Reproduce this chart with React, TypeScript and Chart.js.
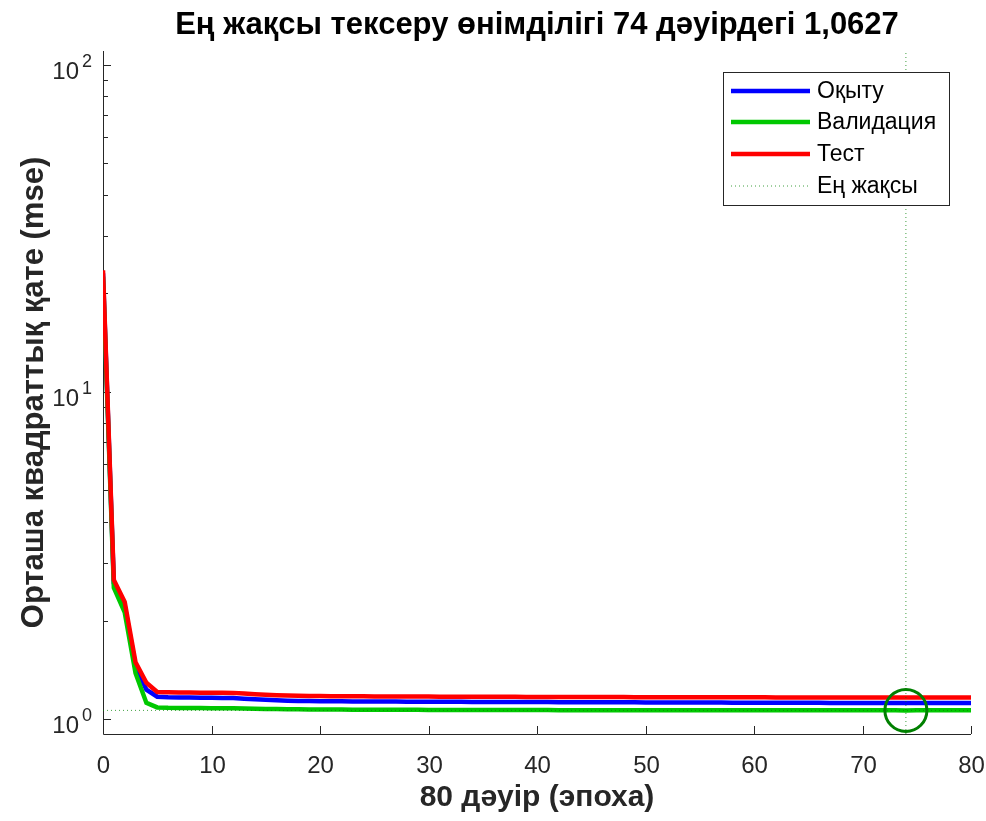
import React, { useEffect, useRef } from "react";
import { Chart, registerables } from "chart.js";
Chart.register(...registerables);

const titleText = "Ең жақсы тексеру өнімділігі 74 дәуірдегі 1,0627";
const xLabelText = "80 дәуір (эпоха)";
const yLabelText = "Орташа квадраттық қате (mse)";
const legendLabels = ["Оқыту", "Валидация", "Тест", "Ең жақсы"];

const epochs: number[] = [
  0, 1, 2, 3, 4, 5, 6, 7, 8, 9, 10, 11, 12, 13, 14, 15, 16, 17, 18, 19, 20,
  21, 22, 23, 24, 25, 26, 27, 28, 29, 30, 31, 32, 33, 34, 35, 36, 37, 38, 39, 40,
  41, 42, 43, 44, 45, 46, 47, 48, 49, 50, 51, 52, 53, 54, 55, 56, 57, 58, 59, 60,
  61, 62, 63, 64, 65, 66, 67, 68, 69, 70, 71, 72, 73, 74, 75, 76, 77, 78, 79, 80,
];

const trainMse: number[] = [
  23.0, 2.6, 2.22, 1.45, 1.23, 1.17, 1.166, 1.164, 1.163, 1.162,
  1.161, 1.16, 1.159, 1.154, 1.149, 1.145, 1.141, 1.138, 1.136, 1.135,
  1.134, 1.133, 1.133, 1.132, 1.132, 1.131, 1.131, 1.131, 1.13, 1.13,
  1.13, 1.129, 1.129, 1.129, 1.128, 1.128, 1.128, 1.128, 1.127, 1.127,
  1.127, 1.127, 1.126, 1.126, 1.126, 1.126, 1.125, 1.125, 1.125, 1.125,
  1.124, 1.124, 1.124, 1.124, 1.123, 1.123, 1.123, 1.123, 1.122, 1.122,
  1.122, 1.122, 1.121, 1.121, 1.121, 1.121, 1.121, 1.12, 1.12, 1.12,
  1.12, 1.12, 1.119, 1.119, 1.119, 1.119, 1.119, 1.119, 1.119, 1.119, 1.119,
];

const validationMse: number[] = [
  22.5, 2.52, 2.12, 1.38, 1.12, 1.085, 1.082, 1.081, 1.08, 1.08,
  1.079, 1.079, 1.078, 1.077, 1.075, 1.074, 1.073, 1.072, 1.071, 1.07,
  1.07, 1.069, 1.069, 1.068, 1.068, 1.068, 1.067, 1.067, 1.067, 1.067,
  1.066, 1.066, 1.066, 1.066, 1.066, 1.065, 1.065, 1.065, 1.065, 1.065,
  1.065, 1.065, 1.064, 1.064, 1.064, 1.064, 1.064, 1.064, 1.064, 1.064,
  1.064, 1.064, 1.0635, 1.0635, 1.0635, 1.0635, 1.0635, 1.0635, 1.0635, 1.0635,
  1.0633, 1.0633, 1.0633, 1.0632, 1.0632, 1.0632, 1.0631, 1.0631, 1.063, 1.063,
  1.0629, 1.0629, 1.0628, 1.0628, 1.0627, 1.0628, 1.0628, 1.0629, 1.0629, 1.063, 1.063,
];

const testMse: number[] = [
  23.5, 2.66, 2.28, 1.49, 1.29, 1.21, 1.208, 1.206, 1.205, 1.204,
  1.203, 1.203, 1.202, 1.196, 1.191, 1.187, 1.183, 1.18, 1.178, 1.176,
  1.175, 1.174, 1.174, 1.173, 1.173, 1.172, 1.172, 1.172, 1.171, 1.171,
  1.171, 1.17, 1.17, 1.17, 1.17, 1.169, 1.169, 1.169, 1.169, 1.168,
  1.168, 1.168, 1.168, 1.168, 1.167, 1.167, 1.167, 1.167, 1.167, 1.166,
  1.166, 1.166, 1.166, 1.166, 1.166, 1.165, 1.165, 1.165, 1.165, 1.165,
  1.165, 1.165, 1.164, 1.164, 1.164, 1.164, 1.164, 1.164, 1.164, 1.164,
  1.163, 1.163, 1.163, 1.163, 1.163, 1.163, 1.163, 1.163, 1.163, 1.163, 1.163,
];

const bestEpoch = 74;
const bestValue = 1.0627;
const xMin = 0;
const xMax = 80;
const yMin = 0.9;
const yMax = 110;
const xTickValues = [0, 10, 20, 30, 40, 50, 60, 70, 80];
const yMajorTicks = [1, 10, 100];
const yMajorExponents = ["0", "1", "2"];
const yMinorTicks = [
  2, 3, 4, 5, 6, 7, 8, 9, 20, 30, 40, 50, 60, 70, 80, 90,
];

const FONT = "'Liberation Sans', Arial, Helvetica, sans-serif";
const AXIS_COLOR = "#262626";
const BLUE = "#0000ff";
const GREEN = "#00c800";
const RED = "#ff0000";
const BEST_COLOR = "rgba(0,128,0,0.75)";
const CIRCLE_COLOR = "#008000";

const decorPlugin = {
  id: "matlabDecor",
  beforeDatasetsDraw(chart: any) {
    const ctx = chart.ctx;
    const { left, right, top, bottom } = chart.chartArea;
    const xs = chart.scales.x;
    const ys = chart.scales.y;
    ctx.save();
    ctx.strokeStyle = AXIS_COLOR;
    ctx.lineWidth = 1;
    ctx.beginPath();
    ctx.moveTo(left + 0.5, top);
    ctx.lineTo(left + 0.5, bottom + 0.5);
    ctx.lineTo(right, bottom + 0.5);
    ctx.stroke();
    ctx.fillStyle = AXIS_COLOR;
    ctx.font = `24px ${FONT}`;
    ctx.textAlign = "center";
    ctx.textBaseline = "alphabetic";
    for (const v of xTickValues) {
      const px = Math.round(xs.getPixelForValue(v)) + 0.5;
      ctx.beginPath();
      ctx.moveTo(px, bottom);
      ctx.lineTo(px, bottom - 8);
      ctx.stroke();
      ctx.fillText(String(v), px, 773);
    }
    for (let i = 0; i < yMajorTicks.length; i++) {
      const py = Math.round(ys.getPixelForValue(yMajorTicks[i])) + 0.5;
      ctx.beginPath();
      ctx.moveTo(left, py);
      ctx.lineTo(left + 8, py);
      ctx.stroke();
      ctx.textAlign = "right";
      ctx.font = `18px ${FONT}`;
      const expRight = left - 11;
      const ew = ctx.measureText(yMajorExponents[i]).width;
      ctx.fillText(yMajorExponents[i], expRight, py + 1);
      ctx.font = `24px ${FONT}`;
      ctx.fillText("10", expRight - ew - 3, py + 13);
    }
    for (const v of yMinorTicks) {
      const py = Math.round(ys.getPixelForValue(v)) + 0.5;
      ctx.beginPath();
      ctx.moveTo(left, py);
      ctx.lineTo(left + 5, py);
      ctx.stroke();
    }
    ctx.restore();
  },
  afterDraw(chart: any) {
    const ctx = chart.ctx;
    const { left, right, top, bottom } = chart.chartArea;
    const cx = (left + right) / 2;
    ctx.save();
    ctx.fillStyle = "#000000";
    ctx.font = `bold 31px ${FONT}`;
    ctx.textAlign = "center";
    ctx.textBaseline = "alphabetic";
    ctx.fillText(titleText, cx, 34);
    ctx.fillStyle = AXIS_COLOR;
    ctx.font = `bold 30px ${FONT}`;
    ctx.fillText(xLabelText, cx, 806);
    ctx.save();
    ctx.translate(43, (top + bottom) / 2);
    ctx.rotate(-Math.PI / 2);
    ctx.font = `bold 31px ${FONT}`;
    ctx.fillText(yLabelText, 0, 0);
    ctx.restore();

    const bx = 723, by = 72, bw = 226, bh = 133;
    ctx.fillStyle = "#ffffff";
    ctx.fillRect(bx, by, bw, bh);
    ctx.strokeStyle = AXIS_COLOR;
    ctx.lineWidth = 1;
    ctx.strokeRect(bx + 0.5, by + 0.5, bw, bh);
    const rows = [91, 122, 154, 186];
    const colors = [BLUE, GREEN, RED, BEST_COLOR];
    ctx.font = `23px ${FONT}`;
    ctx.textAlign = "left";
    ctx.textBaseline = "middle";
    for (let i = 0; i < rows.length; i++) {
      ctx.beginPath();
      ctx.strokeStyle = colors[i];
      if (i < 3) {
        ctx.lineWidth = 4.5;
        ctx.setLineDash([]);
      } else {
        ctx.lineWidth = 1;
        ctx.setLineDash([1, 3]);
      }
      ctx.moveTo(731, rows[i]);
      ctx.lineTo(810, rows[i]);
      ctx.stroke();
      ctx.setLineDash([]);
      ctx.fillStyle = "#000000";
      ctx.fillText(legendLabels[i], 817, rows[i] + 1);
    }
    ctx.restore();
  },
};

export default function App() {
  const ref = useRef<HTMLCanvasElement | null>(null);
  useEffect(() => {
    if (!ref.current) return;
    const toPts = (arr: number[]) => epochs.map((e, i) => ({ x: e, y: arr[i] }));
    const chart = new Chart(ref.current, {
      type: "line",
      data: {
        datasets: [
          { label: legendLabels[0], data: toPts(trainMse), borderColor: BLUE, borderWidth: 4.5, pointRadius: 0, order: 4 },
          { label: legendLabels[1], data: toPts(validationMse), borderColor: GREEN, borderWidth: 4.5, pointRadius: 0, order: 3 },
          { label: legendLabels[2], data: toPts(testMse), borderColor: RED, borderWidth: 4.5, pointRadius: 0, order: 2 },
          {
            label: legendLabels[3],
            data: [
              { x: bestEpoch, y: yMin },
              { x: bestEpoch, y: yMax },
            ],
            borderColor: BEST_COLOR,
            borderWidth: 1,
            borderDash: [1, 3],
            pointRadius: 0,
            order: 1,
          },
          {
            label: "best-h",
            data: [
              { x: xMin, y: bestValue },
              { x: xMax, y: bestValue },
            ],
            borderColor: BEST_COLOR,
            borderWidth: 1,
            borderDash: [1, 3],
            pointRadius: 0,
            order: 1,
          },
          {
            label: "best-point",
            data: [{ x: bestEpoch, y: bestValue }],
            showLine: false,
            pointRadius: 21,
            pointBorderWidth: 3,
            pointBorderColor: CIRCLE_COLOR,
            pointBackgroundColor: "rgba(0,0,0,0)",
            order: 0,
            clip: false as any,
          },
        ],
      },
      options: {
        animation: false,
        responsive: false,
        devicePixelRatio: 1,
        layout: { autoPadding: false, padding: { left: 103, right: 15, top: 51, bottom: 87 } },
        plugins: { legend: { display: false }, tooltip: { enabled: false }, title: { display: false } },
        scales: {
          x: { type: "linear", min: xMin, max: xMax, display: false },
          y: { type: "logarithmic", min: yMin, max: yMax, display: false },
        },
      },
      plugins: [decorPlugin],
    });
    return () => chart.destroy();
  }, []);
  return (
    <div style={{ position: "fixed", left: 0, top: 0, width: 986, height: 821, background: "#fff" }}>
      <canvas ref={ref} width={986} height={821} style={{ width: 986, height: 821 }} />
    </div>
  );
}
